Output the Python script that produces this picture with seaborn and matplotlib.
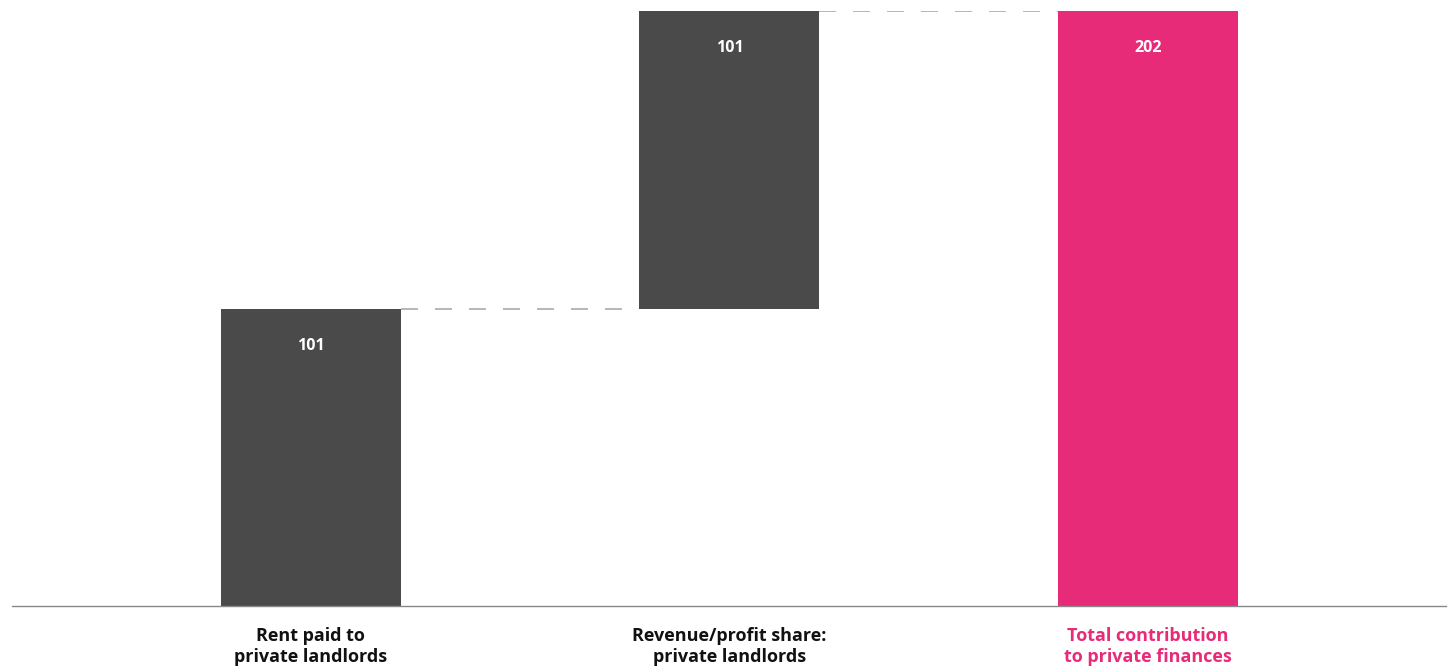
import numpy as np
import pandas
import seaborn
import matplotlib.pyplot as plt

seaborn.set_style(style='white')
plt.rcParams['font.family'] = ['Open Sans', 'DejaVu Sans']

categories = ['Rent paid to\nprivate landlords',
              'Revenue/profit share:\nprivate landlords',
              'Total contribution\nto private finances']
values = [101, 101, 202]
bottoms = [0, 101, 0]
bar_colors = ['#4a4a4a', '#4a4a4a', '#e72b78']
label_colors = ['#111111', '#111111', '#e72b78']

df = pandas.DataFrame({'cat': categories, 'value': values})

fig = plt.figure(figsize=(14.54, 6.7), dpi=100)
ax = fig.add_axes([12/1454, 1-606/670, 1434/1454, 595/670])
seaborn.barplot(data=df, x='cat', y='value', hue='cat', palette=bar_colors,
                legend=False, width=0.43, saturation=1, linewidth=0, ax=ax)

for patch, b, v in zip(ax.patches, bottoms, values):
    patch.set_y(b)
    patch.set_height(v)
    cx = patch.get_x() + patch.get_width()/2
    ax.annotate(f'{v}', (cx, b+v), xytext=(0, -27), textcoords='offset points',
                ha='center', va='center', color='white', fontsize=11.5, fontweight='bold')

# connector lines
tops = [b+v for b, v in zip(bottoms, values)]
for i in range(len(values)-1):
    p0, p1 = ax.patches[i], ax.patches[i+1]
    level = tops[i] if i == 0 else tops[i+1]
    ax.plot([p0.get_x()+p0.get_width(), p1.get_x()], [level, level],
            color='#aaaaaa', linewidth=1.2, dashes=(10.2, 10.2), zorder=0)

ax.set_xlim(-0.714, 2.712)
ax.set_ylim(0, 202)
ax.set_xlabel('')
ax.set_ylabel('')
ax.set_yticks([])
seaborn.despine(ax=ax, left=True)
ax.spines['bottom'].set_color('#888888')
ax.spines['bottom'].set_linewidth(1)
ax.tick_params(axis='x', length=0, pad=15)
for lbl, c in zip(ax.get_xticklabels(), label_colors):
    lbl.set_color(c)
    lbl.set_fontweight('bold')
    lbl.set_fontsize(13)
    lbl.set_linespacing(1.2)

plt.savefig('out.png', dpi=100)
